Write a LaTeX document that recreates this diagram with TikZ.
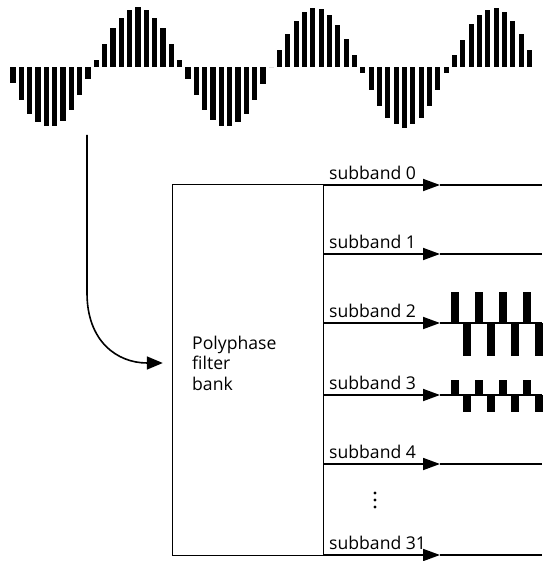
\documentclass[tikz,border=0pt]{standalone}
\usepackage{fontspec}
\setmainfont{Open Sans}
\usetikzlibrary{arrows.meta,positioning}

\begin{document}
\begin{tikzpicture}[x=1pt, y=-1pt,
    txt/.style={font=\fontsize{17.6}{20.5}\selectfont, inner sep=0pt},
    sbarrow/.style={line width=1.8pt, -{Triangle[length=17pt,width=12pt]}},
    sbline/.style={line width=1.1pt}]
    \useasboundingbox (0,0) rectangle (542,561);

    % Input signal
    \foreach \h [count=\i from 0] in {-16,-33,-47,-55,-59,-59,-54,-43,-28,-12,
        7,23,39,49,57,60,57,49,39,23,7,
        -12,-28,-43,-53,-59,-59,-55,-47,-33,-17,
        0,
        17,33,46,55,59,58,52,42,28,12,
        -6,-23,-39,-51,-57,-61,-57,-51,-39,-23,-6,
        12,27,43,52,57,59,55,46,33,17}
        \fill (13+8.33*\i-2.6, 66.7) rectangle ++(5.2,{-(\h)});

    % Filter bank
    \node[draw, line width=1pt, minimum width=151pt, minimum height=370pt, inner sep=0pt] (bank) at (247.8,370) {};
    \node[txt, anchor=west, align=left] (banktxt) at (192,363) {Polyphase\\filter\\bank};

    % Input arrow
    \coordinate (src) at (87,135);
    \draw[line width=1.6pt, -{Triangle[length=16pt,width=13pt]}, shorten >=9pt]
        (src) -- ++(0,158) .. controls +(0,48) and +(-55,0) .. (bank.west |- banktxt.west);

    % Subbands
    \foreach \y/\n in {185/0,254/1,323/2,395/3,464/4,555/31} {
        \coordinate (sb\n) at (323.3,\y);
        \coordinate (tip\n) at (440,\y);
        \coordinate (end\n) at (542,\y);
        \draw[sbline] (tip\n) -- (end\n);
        \draw[sbarrow] (sb\n) -- (tip\n);
        \node[txt, anchor=base west] (lbl\n) at (329,\y-6) {subband \n};
    }

    % Dots
    \foreach \y in {493,500,507}
        \fill (375,\y) circle (1.6pt);

    % Subband 2 and 3 samples
    \foreach \k in {0,...,7} {
        \pgfmathsetmacro{\xs}{454.5+12.1*\k}
        \ifodd\k
            \fill (\xs-4,323) rectangle ++(8,33);
            \fill (\xs-4,395) rectangle ++(8,17);
        \else
            \fill (\xs-4,323) rectangle ++(8,-31);
            \fill (\xs-4,395) rectangle ++(8,-15);
        \fi
    }
\end{tikzpicture}
\end{document}
